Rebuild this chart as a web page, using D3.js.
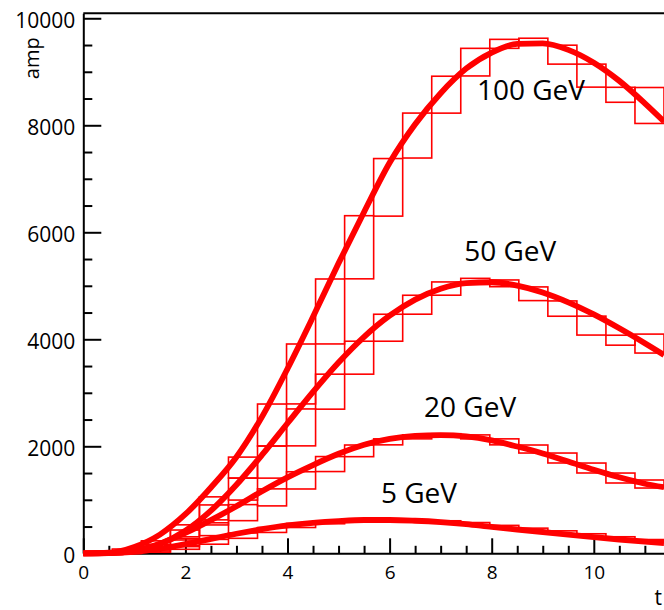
<!DOCTYPE html>
<html>
<head>
<meta charset="utf-8">
<script src="https://cdn.jsdelivr.net/npm/d3@7"></script>
<style>
  html, body { margin: 0; padding: 0; background: #fff; }
  svg { display: block; }
  text { font-family: 'Open Sans', 'Noto Sans', sans-serif; fill: #000; }
</style>
</head>
<body>
<svg id="chart" width="664" height="610"></svg>
<script>
// ---------------- data ----------------
const seriesNames = ["100 GeV", "50 GeV", "20 GeV", "5 GeV"];
const xTicksMajor = [0, 2, 4, 6, 8, 10];
const yTicksMajor = [0, 2000, 4000, 6000, 8000, 10000];
const xTitle = "t";
const yTitle = "amp";

// histograms: 20 bins over [0, 11.375], bin content and error (drawn as error boxes)
const histRange = [0, 11.375];
const histBins = 20;
const hist100 = [0, 40, 177, 420, 840, 1602, 2398, 3352, 4520, 5720, 6840, 7808, 8572, 9180, 9522, 9580, 9320, 8928, 8570, 8370];
const err100  = [0, 40, 56, 112, 215, 196, 392, 560, 607, 590, 538, 420, 345, 258, 84, 47, 177, 215, 140, 336];
const hist50  = [0, 25, 118, 342, 717, 1200, 1705, 2353, 3021, 3656, 4216, 4646, 4948, 5095, 5046, 4851, 4574, 4256, 3983, 3920];
const err50   = [0, 15, 47, 93, 187, 205, 300, 345, 327, 308, 252, 177, 124, 44, 63, 128, 143, 177, 93, 177];
const hist20  = [0, 8, 60, 200, 450, 760, 1045, 1363, 1668, 1915, 2083, 2176, 2205, 2176, 2083, 1949, 1781, 1594, 1407, 1295];
const err20   = [0, 8, 35, 75, 120, 150, 159, 161, 140, 109, 56, 37, 30, 37, 56, 75, 93, 93, 93, 75];
const hist5   = [0, 4, 40, 110, 215, 330, 435, 520, 580, 610, 623, 615, 592, 553, 497, 442, 392, 337, 283, 235];
const err5    = [0, 5, 20, 35, 45, 50, 45, 38, 28, 15, 5, 8, 16, 22, 25, 28, 28, 28, 26, 22];

// fitted pulse curves, sampled
const fitT   = [0, 0.5, 1, 1.5, 2, 2.5, 3, 3.5, 4, 4.5, 5, 5.5, 6, 6.5, 7, 7.5, 8, 8.5, 9, 9.5, 10, 10.5, 11, 11.375];
const fit100 = [0, 10, 120, 350, 730, 1230, 1800, 2550, 3450, 4420, 5420, 6380, 7300, 8020, 8600, 9060, 9360, 9520, 9530, 9410, 9170, 8830, 8410, 8070];
const fit50  = [0, 4, 44, 172, 421, 797, 1281, 1838, 2431, 3017, 3566, 4046, 4441, 4742, 4944, 5050, 5066, 5003, 4875, 4691, 4465, 4206, 3927, 3708];
const fit20  = [0, 5, 50, 180, 380, 620, 880, 1160, 1420, 1650, 1860, 2030, 2140, 2195, 2210, 2185, 2110, 1995, 1865, 1715, 1560, 1420, 1300, 1235];
const fit5   = [0, 3, 25, 85, 170, 270, 365, 450, 520, 570, 603, 622, 622, 608, 583, 545, 492, 445, 398, 350, 303, 258, 218, 192];

// ---------------- layout ----------------
const W = 664, H = 610;
const plot = { left: 83.3, right: 664, top: 13.3, bottom: 553.3 };
const yMax = 10093;
const red = "#ff0000";
const labelAnchors = [ // data coordinates (t, amp) of each label's baseline-left
  { t: 7.71, a: 8473 },
  { t: 7.46, a: 5463 },
  { t: 6.675, a: 2548 },
  { t: 5.83, a: 940 }
];

const svg = d3.select("#chart");
svg.append("rect").attr("width", W).attr("height", H).attr("fill", "#fff");

const xs = d3.scaleLinear().domain(histRange).range([plot.left, plot.right]);
const ys = d3.scaleLinear().domain([0, yMax]).range([plot.bottom, plot.top]);

// frame (top edge)
svg.append("line")
  .attr("x1", plot.left).attr("x2", plot.right)
  .attr("y1", plot.top).attr("y2", plot.top)
  .attr("stroke", "#000").attr("stroke-width", 2);

// y axis
const yMinor = d3.range(0, 10001, 500).filter(v => !yTicksMajor.includes(v));
const gy = svg.append("g").attr("transform", `translate(${plot.left},0)`);
gy.call(d3.axisLeft(ys).tickValues(yTicksMajor).tickSizeInner(-18).tickSizeOuter(0).tickPadding(8).tickFormat(d3.format("d")));
const gyMinor = svg.append("g").attr("transform", `translate(${plot.left},0)`);
gyMinor.call(d3.axisLeft(ys).tickValues(yMinor).tickSizeInner(-9).tickSizeOuter(0).tickFormat(""));
gyMinor.select(".domain").remove();

// x axis
const xMinor = d3.range(0, 11.3, 0.5).filter(v => !xTicksMajor.includes(v));
const gx = svg.append("g").attr("transform", `translate(0,${plot.bottom})`);
gx.call(d3.axisBottom(xs).tickValues(xTicksMajor).tickSizeInner(-15).tickSizeOuter(0).tickPadding(12).tickFormat(d3.format("d")));
const gxMinor = svg.append("g").attr("transform", `translate(0,${plot.bottom})`);
gxMinor.call(d3.axisBottom(xs).tickValues(xMinor).tickSizeInner(-7.5).tickSizeOuter(0).tickFormat(""));
gxMinor.select(".domain").remove();

svg.selectAll(".domain").attr("stroke", "#000").attr("stroke-width", 2);
svg.selectAll(".tick line").attr("stroke", "#000").attr("stroke-width", 2);
gy.selectAll(".tick text").attr("font-size", 21).attr("dy", "0.45em").style("font-family", "'Open Sans', sans-serif");
gx.selectAll(".tick text").attr("font-size", 19).style("font-family", "'Open Sans', sans-serif");

// axis titles
svg.append("text")
  .attr("transform", `translate(38.5,${plot.top + 24}) rotate(-90)`)
  .attr("text-anchor", "end")
  .attr("font-size", 20)
  .text(yTitle);
svg.append("text")
  .attr("x", W - 2).attr("y", 605)
  .attr("text-anchor", "end")
  .attr("font-size", 21)
  .text(xTitle);

// histograms drawn as error boxes (content +/- error over the bin width)
const binW = (histRange[1] - histRange[0]) / histBins;
const allHists = [[hist100, err100], [hist50, err50], [hist20, err20], [hist5, err5]];
const allFits = [fit100, fit50, fit20, fit5];

allHists.forEach(([h, e]) => {
  const boxes = h.map((v, i) => ({
    x0: histRange[0] + i * binW,
    x1: histRange[0] + (i + 1) * binW,
    lo: v - e[i],
    hi: v + e[i]
  }));
  svg.append("g").selectAll("rect").data(boxes).join("rect")
    .attr("x", d => xs(d.x0))
    .attr("width", d => xs(d.x1) - xs(d.x0))
    .attr("y", d => ys(d.hi))
    .attr("height", d => Math.max(0, ys(d.lo) - ys(d.hi)))
    .attr("fill", "none")
    .attr("stroke", red)
    .attr("stroke-width", 1.6);
});

// fitted curves
const line = d3.line()
  .x((d, i) => xs(fitT[i]))
  .y(d => ys(d))
  .curve(d3.curveMonotoneX);
allFits.forEach(f => {
  svg.append("path")
    .attr("d", line(f))
    .attr("fill", "none")
    .attr("stroke", red)
    .attr("stroke-width", 5.8)
    .attr("stroke-linejoin", "round");
});

// series labels
seriesNames.forEach((name, i) => {
  svg.append("text")
    .attr("x", xs(labelAnchors[i].t))
    .attr("y", ys(labelAnchors[i].a))
    .attr("font-size", 28)
    .text(name);
});
</script>
</body>
</html>
